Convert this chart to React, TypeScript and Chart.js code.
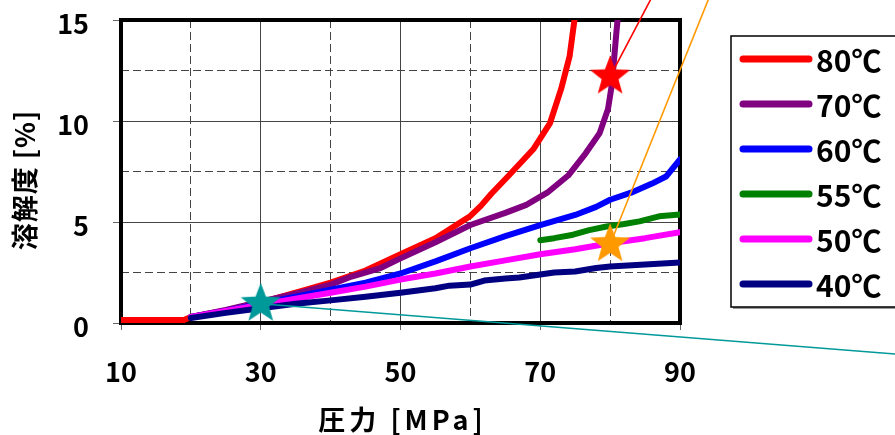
import React, { useEffect, useRef } from "react";
import { Chart, registerables } from "chart.js";

Chart.register(...registerables);

// ---- Data ----
const seriesLabels = ["80℃", "70℃", "60℃", "55℃", "50℃", "40℃"];
const seriesColors = ["#FF0000", "#800080", "#0000FF", "#008000", "#FF00FF", "#000080"];

const pressure80 = [10, 15, 19, 20, 25, 30, 35, 40, 45, 50, 55, 60, 61.5, 63, 65.5, 69, 71.4, 73, 74.2, 74.7, 75.1];
const solubility80 = [0.15, 0.15, 0.15, 0.3, 0.62, 1.02, 1.5, 2.0, 2.6, 3.4, 4.2, 5.3, 5.8, 6.4, 7.3, 8.6, 9.9, 11.6, 13.2, 14.5, 15.5];

const pressure70 = [20, 25, 30, 35, 40, 43, 47, 50, 55, 60, 65, 68, 71, 74, 76.5, 78.5, 79.7, 80.2, 80.5, 80.9, 81.2];
const solubility70 = [0.3, 0.65, 1.05, 1.45, 1.9, 2.3, 2.7, 3.2, 4.0, 4.85, 5.45, 5.85, 6.45, 7.3, 8.4, 9.4, 10.6, 11.7, 12.8, 14.4, 15.5];

const pressure60 = [20, 25, 30, 35, 40, 45, 50, 55, 60, 65, 70, 75, 78, 80, 83, 86, 88, 90];
const solubility60 = [0.3, 0.6, 0.95, 1.3, 1.65, 2.0, 2.45, 3.05, 3.7, 4.3, 4.85, 5.35, 5.75, 6.1, 6.45, 6.9, 7.25, 8.1];

const pressure55 = [70, 72, 74.7, 77, 79.5, 82, 84.2, 87, 90];
const solubility55 = [4.1, 4.2, 4.37, 4.6, 4.78, 4.9, 5.03, 5.28, 5.37];

const pressure50 = [20, 25, 30, 35, 40, 45, 50, 55, 60, 65, 70, 75, 80, 85, 90];
const solubility50 = [0.3, 0.6, 0.9, 1.2, 1.5, 1.8, 2.15, 2.45, 2.8, 3.1, 3.4, 3.65, 3.95, 4.2, 4.5];

const pressure40 = [20, 25, 30, 35, 40, 45, 50, 55, 57, 60, 62, 65, 67, 70, 72, 75, 78, 80, 85, 90];
const solubility40 = [0.25, 0.5, 0.73, 0.95, 1.12, 1.3, 1.5, 1.72, 1.85, 1.9, 2.1, 2.2, 2.25, 2.4, 2.5, 2.55, 2.72, 2.8, 2.9, 3.0];

const seriesPressure = [pressure80, pressure70, pressure60, pressure55, pressure50, pressure40];
const seriesSolubility = [solubility80, solubility70, solubility60, solubility55, solubility50, solubility40];

// star markers
const starPressure = [80, 80, 30];
const starSolubility = [12.2, 3.9, 0.95];
const starColors = ["#FF0000", "#FF9900", "#009999"];

// callout lines leaving each star
const calloutPressure = [
  [80, 87.3],
  [80, 95.2],
  [30, 125],
];
const calloutSolubility = [
  [12.2, 17.0],
  [3.9, 17.0],
  [0.95, -1.65],
];

// axes
const xMin = 10, xMax = 90, xStep = 10;
const yMin = 0, yMax = 15, yStep = 2.5;
const xTickLabels = [10, 30, 50, 70, 90];
const yTickLabels = [0, 5, 10, 15];
const xTitle = "圧力 [MPa]";
const yTitle = "溶解度 [%]";

const FONT = "'Noto Sans CJK JP', 'DejaVu Sans', sans-serif";

function zip(xs: number[], ys: number[]) {
  return xs.map((x, i) => ({ x, y: ys[i] }));
}

function makeStar(color: string, R: number) {
  const c = document.createElement("canvas");
  const size = Math.ceil(R * 2 + 2);
  c.width = size;
  c.height = size;
  const g = c.getContext("2d")!;
  const cx = size / 2, cy = size / 2, r = R * 0.42;
  g.beginPath();
  for (let i = 0; i < 10; i++) {
    const ang = -Math.PI / 2 + (i * Math.PI) / 5;
    const rad = i % 2 === 0 ? R : r;
    const px = cx + rad * Math.cos(ang);
    const py = cy + rad * Math.sin(ang);
    if (i === 0) g.moveTo(px, py);
    else g.lineTo(px, py);
  }
  g.closePath();
  g.fillStyle = color;
  g.fill();
  return c;
}

const decorPlugin = {
  id: "decor",
  beforeDatasetsDraw(chart: any) {
    const { ctx, chartArea: a } = chart;
    ctx.save();
    ctx.strokeStyle = "#000";
    ctx.lineWidth = 4;
    ctx.strokeRect(a.left, a.top, a.right - a.left, a.bottom - a.top);
    ctx.restore();
  },
  afterDraw(chart: any) {
    const { ctx, chartArea: a } = chart;
    // axis titles
    ctx.save();
    ctx.fillStyle = "#000";
    ctx.font = `bold 27px ${FONT}`;
    ctx.textAlign = "center";
    ctx.textBaseline = "middle";
    (ctx as any).letterSpacing = "4px";
    ctx.fillText(xTitle, (a.left + a.right) / 2 + 2, 420);
    (ctx as any).letterSpacing = "1px";
    ctx.translate(25, 180);
    ctx.rotate(-Math.PI / 2);
    ctx.fillText(yTitle, 0, 0);
    ctx.restore();

    // legend
    ctx.save();
    const bx = 731, by = 36, bw = 190, bh = 271;
    ctx.fillStyle = "#999";
    ctx.fillRect(bx + 2, by + 2, bw, bh);
    ctx.fillStyle = "#fff";
    ctx.fillRect(bx, by, bw, bh);
    ctx.strokeStyle = "#000";
    ctx.lineWidth = 1.5;
    ctx.strokeRect(bx, by, bw, bh);
    ctx.font = `bold 30px ${FONT}`;
    ctx.textAlign = "left";
    ctx.textBaseline = "middle";
    ctx.lineCap = "round";
    seriesLabels.forEach((lab, i) => {
      const y = 59 + i * 45;
      ctx.strokeStyle = seriesColors[i];
      ctx.lineWidth = 7;
      ctx.beginPath();
      ctx.moveTo(743, y);
      ctx.lineTo(809, y);
      ctx.stroke();
      ctx.fillStyle = "#000";
      ctx.fillText(lab, 816, y + 2);
    });
    ctx.restore();
  },
};

export default function App() {
  const ref = useRef<HTMLCanvasElement | null>(null);

  useEffect(() => {
    document.body.style.margin = "0";
    const canvas = ref.current!;
    const starImages = starColors.map((c) => makeStar(c, 21));

    const seriesSets = seriesLabels.map((lab, i) => ({
      label: lab,
      data: zip(seriesPressure[i], seriesSolubility[i]),
      borderColor: seriesColors[i],
      backgroundColor: seriesColors[i],
      borderWidth: 6,
      pointRadius: 0,
      tension: 0,
      fill: false,
      borderJoinStyle: "round" as const,
      borderCapStyle: "round" as const,
      order: 20 - i,
    }));

    const calloutSets = calloutPressure.map((xs, i) => ({
      label: "callout" + i,
      data: zip(xs, calloutSolubility[i]),
      borderColor: starColors[i],
      borderWidth: 1.6,
      pointRadius: 0,
      tension: 0,
      fill: false,
      clip: false as const,
      order: 3,
    }));

    const starSet = {
      label: "stars",
      data: zip(starPressure, starSolubility),
      showLine: false,
      pointStyle: starImages as any,
      pointRadius: 21,
      borderWidth: 0,
      clip: false as const,
      order: 1,
    };

    const majorX = (v: number) => Math.abs((v - xMin) % 20) < 1e-6;
    const majorY = (v: number) => Math.abs(v % 5) < 1e-6;

    const chart = new Chart(canvas, {
      type: "line",
      data: { datasets: [...seriesSets, ...calloutSets, starSet] as any },
      plugins: [decorPlugin],
      options: {
        animation: false,
        responsive: false,
        devicePixelRatio: 1,
        layout: { autoPadding: false, padding: { left: 0, top: 20, right: 215, bottom: 0 } },
        plugins: { legend: { display: false }, tooltip: { enabled: false }, title: { display: false } },
        scales: {
          x: {
            type: "linear",
            min: xMin,
            max: xMax,
            afterFit: (s: any) => {
              s.height = 112;
              s.paddingLeft = 0;
              s.paddingRight = 0;
            },
            ticks: {
              stepSize: xStep,
              autoSkip: false,
              maxRotation: 0,
              padding: 26,
              color: "#000",
              font: { family: FONT, size: 27, weight: "bold" },
              callback: (v: any) => (xTickLabels.includes(Number(v)) ? String(v) : ""),
            },
            grid: {
              color: "#444",
              lineWidth: 1,
              tickLength: 7,
              tickColor: (c: any) => (c.tick && majorX(c.tick.value) ? "#666" : "rgba(0,0,0,0)"),
            },
            border: {
              display: false,
              dash: (c: any) => (c.tick && majorX(c.tick.value) ? [] : [8, 4]),
            },
          },
          y: {
            type: "linear",
            min: yMin,
            max: yMax,
            afterFit: (s: any) => {
              s.width = 121;
              s.paddingTop = 0;
              s.paddingBottom = 0;
            },
            ticks: {
              stepSize: yStep,
              autoSkip: false,
              padding: 24,
              labelOffset: 4,
              color: "#000",
              font: { family: FONT, size: 27, weight: "bold" },
              callback: (v: any) => (yTickLabels.includes(Number(v)) ? String(v) : ""),
            },
            grid: {
              color: "#444",
              lineWidth: 1,
              tickLength: 8,
              tickColor: (c: any) => (c.tick && majorY(c.tick.value) ? "#666" : "rgba(0,0,0,0)"),
            },
            border: {
              display: false,
              dash: (c: any) => (c.tick && majorY(c.tick.value) ? [] : [8, 4]),
            },
          },
        },
      } as any,
    });
    return () => chart.destroy();
  }, []);

  return (
    <div style={{ position: "absolute", left: 0, top: 0, width: 895, height: 435, background: "#fff" }}>
      <canvas ref={ref} width={895} height={435} style={{ width: 895, height: 435, display: "block" }} />
    </div>
  );
}
